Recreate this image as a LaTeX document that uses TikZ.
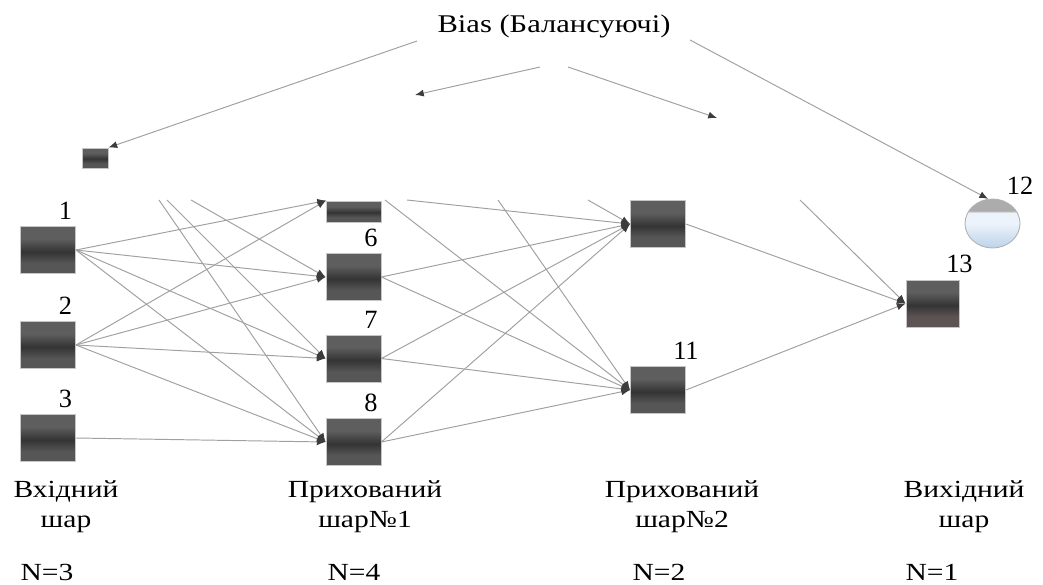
\documentclass[tikz,border=0pt]{standalone}
\usepackage{fontspec}
\setmainfont{Liberation Serif}[FakeStretch=1.2]
\newfontfamily\numfont{Liberation Serif}
\usetikzlibrary{arrows.meta,shapes.geometric}

\definecolor{boxtop}{RGB}{94,94,94}
\definecolor{boxmid}{RGB}{52,52,52}
\definecolor{boxbot}{RGB}{86,86,86}
\definecolor{boxbrown}{RGB}{92,84,82}
\definecolor{linegray}{RGB}{160,160,160}
\definecolor{tipgray}{RGB}{60,60,60}
\definecolor{bulbblue}{RGB}{188,210,234}
\definecolor{bulblight}{RGB}{236,243,250}
\definecolor{bulbcap}{RGB}{172,172,172}

% shading of the boxes (bottom -> top)
\pgfdeclareverticalshading{neuronshade}{100bp}{color(0bp)=(boxbot); color(25bp)=(boxbot);
  color(36bp)=(boxbot); color(48bp)=(boxmid); color(62bp)=(boxtop); color(75bp)=(boxtop); color(100bp)=(boxtop)}
\pgfdeclareverticalshading{outshade}{100bp}{color(0bp)=(boxbrown); color(25bp)=(boxbrown);
  color(36bp)=(boxbrown); color(48bp)=(boxmid); color(62bp)=(boxtop); color(75bp)=(boxtop); color(100bp)=(boxtop)}
\pgfdeclareverticalshading{bulbshade}{100bp}{color(0bp)=(bulbblue); color(25bp)=(bulbblue);
  color(50bp)=(bulblight); color(61bp)=(bulblight); color(63bp)=(bulbcap); color(100bp)=(bulbcap)}

\begin{document}
\begin{tikzpicture}[x=0.02cm, y=-0.02cm,
    neuron/.style={rectangle, draw=gray!45, line width=0.5pt, inner sep=0pt,
        minimum width=1.1cm, minimum height=0.94cm, shading=neuronshade},
    link/.style={draw=linegray, line width=0.55pt, -{Latex[length=5pt, width=4pt, color=tipgray]}},
    numlbl/.style={font=\numfont\fontsize{15}{15}\selectfont, inner sep=1pt},
    layerlbl/.style={font=\fontsize{14}{16}\selectfont, inner sep=0pt, anchor=base}]

    \useasboundingbox (0,0) rectangle (1043,584);

    % Bias
    \node[font=\fontsize{14.5}{16}\selectfont, inner sep=0pt, anchor=base] (bias) at (554,33) {Bias (Балансуючі)};
    \node[neuron, minimum width=0.52cm, minimum height=0.4cm] (nb) at (95,158) {};

    % Вхідний шар
    \node[neuron] (n1) at (48,250) {};
    \node[neuron] (n2) at (48,345) {};
    \node[neuron] (n3) at (48,438) {};

    % Прихований шар 1
    \node[neuron, minimum height=0.42cm] (n5) at (354,211.5) {};
    \node[neuron] (n6) at (353.5,277) {};
    \node[neuron] (n7) at (353.5,358.5) {};
    \node[neuron] (n8) at (353.5,442) {};

    % Прихований шар 2
    \node[neuron] (n10) at (658,224) {};
    \node[neuron] (n11) at (658,390) {};

    % Вихідний шар
    \node[neuron, minimum width=1.06cm, shading=outshade] (n13) at (932.5,303.5) {};
    \node[ellipse, draw=gray!60, line width=0.5pt, inner sep=0pt,
        minimum width=1.1cm, minimum height=0.98cm, shading=bulbshade] (n12) at (992.5,223.5) {};

    % Номери
    \node[numlbl, anchor=south east] (l1) at ([xshift=-1pt,yshift=2.5pt]n1.north east) {1};
    \node[numlbl, anchor=south east] (l2) at ([xshift=-1pt,yshift=2.5pt]n2.north east) {2};
    \node[numlbl, anchor=south east] (l3) at ([xshift=-1pt,yshift=2.5pt]n3.north east) {3};
    \node[numlbl, anchor=south east] (l6) at ([xshift=-1pt,yshift=2.5pt]n6.north east) {6};
    \node[numlbl, anchor=south east] (l7) at ([xshift=-1pt,yshift=2.5pt]n7.north east) {7};
    \node[numlbl, anchor=south east] (l8) at ([xshift=-1pt,yshift=2.5pt]n8.north east) {8};
    \node[numlbl, anchor=south] (l11) at ([yshift=2.5pt]n11.north east) {11};
    \node[numlbl, anchor=south] (l13) at ([yshift=2.5pt]n13.north east) {13};
    \node[numlbl] (l12) at (1020,186) {12};

    % Обрізані кінці ліній
    \coordinate (cb8) at (159,200);
    \coordinate (cb7) at (167,200);
    \coordinate (cb6) at (191,200);
    \coordinate (c5a) at (385,200);
    \coordinate (c5b) at (407,200);
    \coordinate (cx11) at (498,200);
    \coordinate (cx10) at (588,200);
    \coordinate (cx13) at (800,200);

    % Стрілки від Bias
    \coordinate (s1) at (417,41);
    \coordinate (s2) at (540,67);
    \coordinate (s3) at (568,67);
    \coordinate (s4) at (690,40);
    \coordinate (e2) at (415,95);
    \coordinate (e3) at (717,118);
    \draw[link] (s1) -- (nb.north east);
    \draw[link] (s2) -- (e2);
    \draw[link] (s3) -- (e3);
    \draw[link] (s4) -- (n12.100);

    % Вхідний -> шар 1
    \draw[link] (n1.east) -- (n5.north west);
    \draw[link] (n1.east) -- (n6.west);
    \draw[link] (n1.east) -- (n7.west);
    \draw[link] (n1.east) -- (n8.west);
    \draw[link] (n2.east) -- (n5.north west);
    \draw[link] (n2.east) -- (n6.west);
    \draw[link] (n2.east) -- (n7.west);
    \draw[link] (n2.east) -- (n8.west);
    \draw[link] (n3.east) -- (n8.west);
    \draw[link] (cb6) -- (n6.west);
    \draw[link] (cb7) -- (n7.west);
    \draw[link] (cb8) -- (n8.west);

    % Шар 1 -> шар 2
    \draw[link] (c5b) -- (n10.west);
    \draw[link] (c5a) -- (n11.west);
    \draw[link] (n6.east) -- (n10.west);
    \draw[link] (n6.east) -- (n11.west);
    \draw[link] (n7.east) -- (n10.west);
    \draw[link] (n7.east) -- (n11.west);
    \draw[link] (n8.east) -- (n10.west);
    \draw[link] (n8.east) -- (n11.west);
    \draw[link] (cx10) -- (n10.west);
    \draw[link] (cx11) -- (n11.west);

    % Шар 2 -> вихід
    \draw[link] (n10.east) -- (n13.west);
    \draw[link] (n11.east) -- (n13.west);
    \draw[link] (cx13) -- (n13.west);

    % Підписи шарів
    \node[layerlbl] (t1a) at (66,497) {Вхідний};
    \node[layerlbl] (t1b) at (66,527) {шар};
    \node[layerlbl] (t2a) at (365,497) {Прихований};
    \node[layerlbl] (t2b) at (365,527) {шар№1};
    \node[layerlbl] (t3a) at (682,497) {Прихований};
    \node[layerlbl] (t3b) at (682,527) {шар№2};
    \node[layerlbl] (t4a) at (964,497) {Вихідний};
    \node[layerlbl] (t4b) at (964,527) {шар};
    \node[layerlbl] (k1) at (47,580) {N=3};
    \node[layerlbl] (k2) at (354,580) {N=4};
    \node[layerlbl] (k3) at (659,580) {N=2};
    \node[layerlbl] (k4) at (932,580) {N=1};
\end{tikzpicture}
\end{document}
